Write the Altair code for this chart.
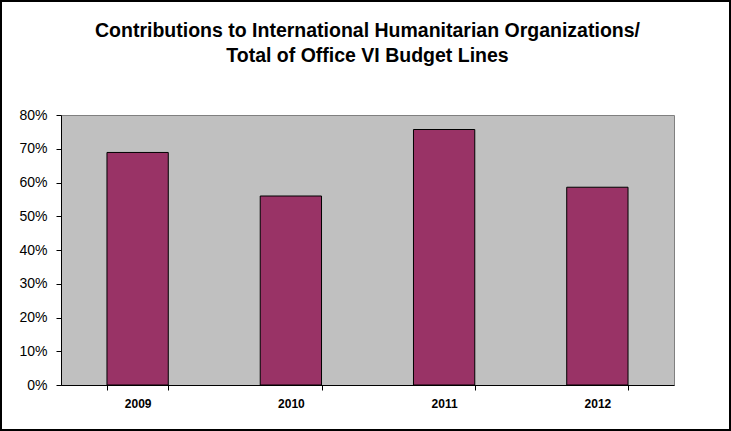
import altair as alt
import pandas as pd

years = ["2009", "2010", "2011", "2012"]
shares = [0.689, 0.560, 0.757, 0.586]
title_lines = ["Contributions to International Humanitarian Organizations/",
               "Total of Office VI Budget Lines"]

df = pd.DataFrame({"year": years, "share": shares})

PL, PT, PR, PB = 61, 115, 57, 46
W, H = 731 - PL - PR, 431 - PT - PB

bars = alt.Chart(df).mark_bar(
    color="#993366", stroke="#000000", strokeWidth=1
).encode(
    x=alt.X("year:N", sort=years, title=None,
            scale=alt.Scale(paddingInner=0.6, paddingOuter=0.3),
            axis=alt.Axis(labelAngle=0, labelFontWeight="bold", labelFontSize=12,
                          labelColor="#000000", labelPadding=8, tickBand="extent",
                          tickSize=5, tickColor="#000000", domainColor="#000000",
                          labelFont="Liberation Sans")),
    y=alt.Y("share:Q", title=None,
            scale=alt.Scale(domain=[0, 0.8], nice=False),
            axis=alt.Axis(format=".0%", values=[i / 10 for i in range(9)],
                          labelFontSize=14, labelColor="#000000", labelPadding=9,
                          tickSize=5, tickColor="#000000", domainColor="#000000",
                          grid=False, labelFont="Liberation Sans")),
)

frame = alt.Chart(alt.Data(values=[{}])).mark_rect(
    fill=None, stroke="#000000", strokeWidth=2
).encode(
    x=alt.value(1 - PL), x2=alt.value(730 - PL),
    y=alt.value(1 - PT), y2=alt.value(430 - PT),
)

chart = alt.layer(bars, frame).properties(
    width=W, height=H,
    title=alt.TitleParams(title_lines, anchor="middle", fontSize=19.5,
                          font="Liberation Sans", fontWeight="bold",
                          color="#000000", lineHeight=25, offset=-66.5,
                          frame="group"),
    autosize=alt.AutoSizeParams(type="none"),
    padding={"left": PL, "top": PT, "right": PR, "bottom": PB},
    background="#FFFFFF",
).configure_view(
    fill="#C0C0C0", stroke="#808080", strokeWidth=1
).configure_axis(
    labelFont="Liberation Sans"
)

chart.save("out.html", embed_options={"renderer": "svg", "actions": False})
